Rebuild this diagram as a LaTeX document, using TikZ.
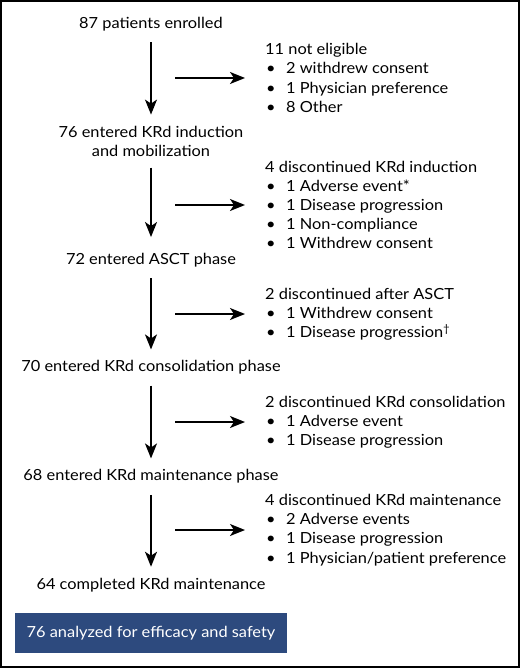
\documentclass[tikz,border=0pt]{standalone}
\usepackage{fontspec}
\setmainfont{Lato}[FakeStretch=1.07]
\usetikzlibrary{arrows.meta,positioning}
\definecolor{boxblue}{HTML}{2D4A7E}

\tikzset{
  phase/.style={inner xsep=2pt, inner ysep=11pt, align=center},
  outcome/.style={inner xsep=20pt, inner ysep=0pt, align=left},
  flow/.style={->, line width=1.8pt},
  summary/.style={fill=boxblue, text=white, minimum width=272pt, minimum height=40pt, inner sep=0pt}
}
\newcommand{\itm}{\makebox[21pt][l]{\hspace{1pt}\textbullet}}

\begin{document}
\begin{tikzpicture}[>={Stealth[length=15pt,width=12pt,inset=4pt]},font=\fontsize{15.3}{19.2}\selectfont]
\useasboundingbox (0pt,0pt) rectangle (520pt,-668pt);
\draw[line width=2pt] (1pt,-1pt) rectangle (519pt,-666.5pt);

% main column
\node[phase] (enrolled) at (151pt,-24.2pt) {87 patients enrolled};
\node[phase] (induction) at (151pt,-141.1pt) {76 entered KRd induction\\and mobilization};
\node[phase] (asct) at (151pt,-260.2pt) {72 entered ASCT phase};
\node[phase] (consol) at (151pt,-367.6pt) {70 entered KRd consolidation phase};
\node[phase] (maint) at (151pt,-476.6pt) {68 entered KRd maintenance phase};
\node[phase] (completed) at (151pt,-584.9pt) {64 completed KRd maintenance};

\draw[flow] (enrolled) -- (induction);
\draw[flow,shorten >=5pt] (induction) -- (asct);
\draw[flow] (asct) -- (consol);
\draw[flow] (consol) -- (maint);
\draw[flow] (maint) -- (completed);

% side branches
\coordinate (s1) at (175pt,-78pt);
\node[outcome, right=70pt of s1] (notelig) {11 not eligible\\
  \itm 2 withdrew consent\\
  \itm 1 Physician preference\\
  \itm 8 Other};
\draw[flow] (s1) -- (notelig);

\coordinate (s2) at (175pt,-205pt);
\node[outcome, right=70pt of s2] (offind) {4 discontinued KRd induction\\
  \itm 1 Adverse event*\\
  \itm 1 Disease progression\\
  \itm 1 Non-compliance\\
  \itm 1 Withdrew consent};
\draw[flow] (s2) -- (offind);

\coordinate (s3) at (175pt,-314pt);
\node[outcome, right=70pt of s3] (offasct) {2 discontinued after ASCT\\
  \itm 1 Withdrew consent\\
  \itm 1 Disease progression\textsuperscript{\textdagger}};
\draw[flow] (s3) -- (offasct);

\coordinate (s4) at (175pt,-422pt);
\node[outcome, right=70pt of s4] (offcons) {2 discontinued KRd consolidation\\
  \itm 1 Adverse event\\
  \itm 1 Disease progression};
\draw[flow] (s4) -- (offcons);

\coordinate (s5) at (175pt,-530pt);
\node[outcome, right=70pt of s5] (offmaint) {4 discontinued KRd maintenance\\
  \itm 2 Adverse events\\
  \itm 1 Disease progression\\
  \itm 1 Physician/patient preference};
\draw[flow] (s5) -- (offmaint);

\node[summary] (analyzed) at (151pt,-633pt) {76 analyzed for efficacy and safety};
\end{tikzpicture}
\end{document}
